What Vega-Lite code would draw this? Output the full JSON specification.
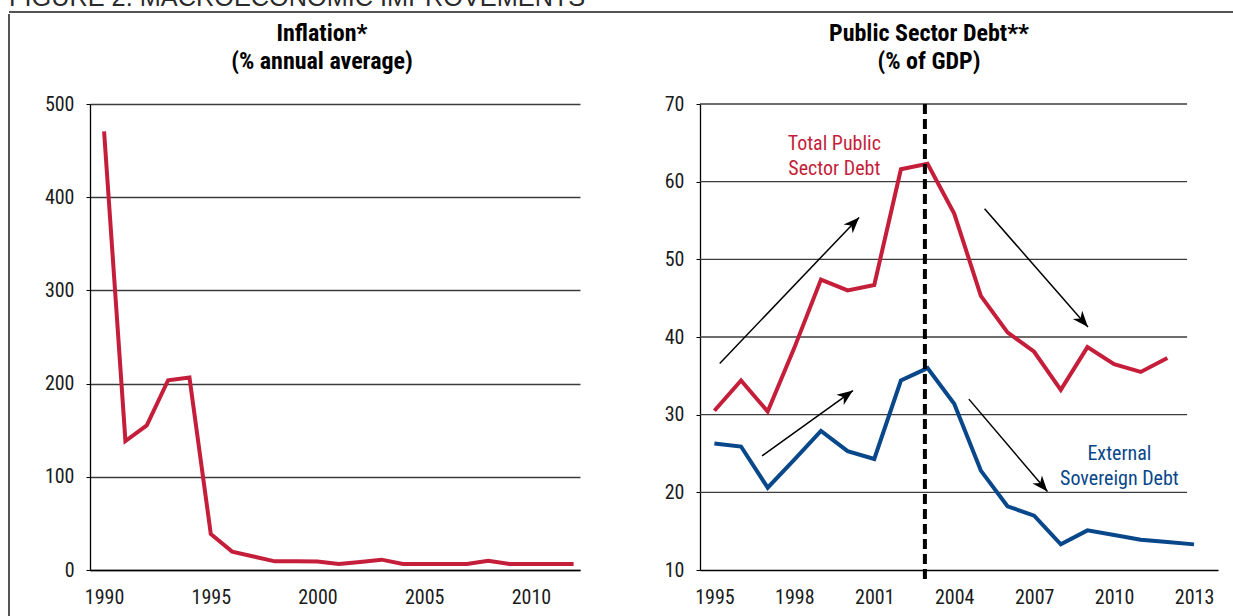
{
  "$schema": "https://vega.github.io/schema/vega-lite/v6.json",
  "padding": {"left": 8, "top": 0, "right": 0, "bottom": 0},
  "background": "#ffffff",
  "config": {
    "view": {"stroke": null},
    "font": "Roboto Condensed, Liberation Sans, sans-serif",
    "axis": {
      "labelFont": "Roboto Condensed, Liberation Sans, sans-serif",
      "labelFontSize": 20,
      "labelColor": "#1a1a1a",
      "domainColor": "#000000",
      "domainWidth": 1.3,
      "tickColor": "#000000",
      "gridColor": "#3c3c3c",
      "gridWidth": 1.3,
      "title": null
    },
    "title": {
      "font": "Roboto Condensed, Liberation Sans, sans-serif",
      "fontSize": 24,
      "fontWeight": "bold",
      "lineHeight": 28.5,
      "color": "#000000",
      "baseline": "alphabetic"
    }
  },
  "datasets": {
    "inflation": [
      {"year": 1990, "value": 470.7}, {"year": 1991, "value": 138.4}, {"year": 1992, "value": 155.2},
      {"year": 1993, "value": 203.6}, {"year": 1994, "value": 206.5}, {"year": 1995, "value": 38.7},
      {"year": 1996, "value": 19.7}, {"year": 1997, "value": 14.5}, {"year": 1998, "value": 9.3},
      {"year": 1999, "value": 9.3}, {"year": 2000, "value": 9.2}, {"year": 2001, "value": 6.5},
      {"year": 2002, "value": 8.7}, {"year": 2003, "value": 11.1}, {"year": 2004, "value": 6.5},
      {"year": 2005, "value": 6.4}, {"year": 2006, "value": 6.4}, {"year": 2007, "value": 6.4},
      {"year": 2008, "value": 10.0}, {"year": 2009, "value": 6.5}, {"year": 2010, "value": 6.5},
      {"year": 2011, "value": 6.5}, {"year": 2012, "value": 6.5}
    ],
    "debt": [
      {"series": "Total Public Sector Debt", "year": 1995, "value": 30.5},
      {"series": "Total Public Sector Debt", "year": 1996, "value": 34.4},
      {"series": "Total Public Sector Debt", "year": 1997, "value": 30.4},
      {"series": "Total Public Sector Debt", "year": 1998, "value": 38.6},
      {"series": "Total Public Sector Debt", "year": 1999, "value": 47.4},
      {"series": "Total Public Sector Debt", "year": 2000, "value": 46.0},
      {"series": "Total Public Sector Debt", "year": 2001, "value": 46.7},
      {"series": "Total Public Sector Debt", "year": 2002, "value": 61.6},
      {"series": "Total Public Sector Debt", "year": 2003, "value": 62.3},
      {"series": "Total Public Sector Debt", "year": 2004, "value": 55.9},
      {"series": "Total Public Sector Debt", "year": 2005, "value": 45.3},
      {"series": "Total Public Sector Debt", "year": 2006, "value": 40.6},
      {"series": "Total Public Sector Debt", "year": 2007, "value": 38.1},
      {"series": "Total Public Sector Debt", "year": 2008, "value": 33.2},
      {"series": "Total Public Sector Debt", "year": 2009, "value": 38.7},
      {"series": "Total Public Sector Debt", "year": 2010, "value": 36.5},
      {"series": "Total Public Sector Debt", "year": 2011, "value": 35.5},
      {"series": "Total Public Sector Debt", "year": 2012, "value": 37.3},
      {"series": "External Sovereign Debt", "year": 1995, "value": 26.3},
      {"series": "External Sovereign Debt", "year": 1996, "value": 25.9},
      {"series": "External Sovereign Debt", "year": 1997, "value": 20.6},
      {"series": "External Sovereign Debt", "year": 1998, "value": 24.2},
      {"series": "External Sovereign Debt", "year": 1999, "value": 27.9},
      {"series": "External Sovereign Debt", "year": 2000, "value": 25.3},
      {"series": "External Sovereign Debt", "year": 2001, "value": 24.3},
      {"series": "External Sovereign Debt", "year": 2002, "value": 34.4},
      {"series": "External Sovereign Debt", "year": 2003, "value": 36.0},
      {"series": "External Sovereign Debt", "year": 2004, "value": 31.4},
      {"series": "External Sovereign Debt", "year": 2005, "value": 22.8},
      {"series": "External Sovereign Debt", "year": 2006, "value": 18.2},
      {"series": "External Sovereign Debt", "year": 2007, "value": 17.0},
      {"series": "External Sovereign Debt", "year": 2008, "value": 13.3},
      {"series": "External Sovereign Debt", "year": 2009, "value": 15.1},
      {"series": "External Sovereign Debt", "year": 2010, "value": 14.5},
      {"series": "External Sovereign Debt", "year": 2011, "value": 13.9},
      {"series": "External Sovereign Debt", "year": 2012, "value": 13.6},
      {"series": "External Sovereign Debt", "year": 2013, "value": 13.3}
    ],
    "arrows": [
      {"x1": 1995.2, "y1": 36.6, "x2": 2000.43, "y2": 55.4, "angle": 43.6},
      {"x1": 1996.79, "y1": 24.7, "x2": 2000.2, "y2": 33.1, "angle": 54.2},
      {"x1": 2005.14, "y1": 56.5, "x2": 2009.02, "y2": 41.3, "angle": 138.8},
      {"x1": 2004.55, "y1": 32.0, "x2": 2007.5, "y2": 20.1, "angle": 139.6}
    ],
    "labels": [
      {"series": "Total Public Sector Debt", "year": 1999.5, "value": 64.8, "text": "Total Public\nSector Debt"},
      {"series": "External Sovereign Debt", "year": 2010.2, "value": 25.0, "text": "External\nSovereign Debt"}
    ],
    "grid": [{"v": 20}, {"v": 30}, {"v": 40}, {"v": 50}, {"v": 60}, {"v": 70}]
  },
  "spacing": 0,
  "vconcat": [
    {
      "width": 1240,
      "height": 12,
      "data": {"values": [{"label": "FIGURE 2. MACROECONOMIC IMPROVEMENTS"}]},
      "layer": [
        {
          "mark": {"type": "text", "clip": true, "align": "left", "baseline": "alphabetic", "fontSize": 25.3, "color": "#2a2a2a", "font": "Liberation Sans, Arial, sans-serif"},
          "encoding": {
            "x": {"datum": 0, "type": "quantitative", "scale": {"domain": [0, 1]}, "axis": null},
            "y": {"datum": 0.46, "type": "quantitative", "scale": {"domain": [0, 1]}, "axis": null},
            "text": {"field": "label"}
          }
        },
        {
          "mark": {"type": "rule", "color": "#555555", "strokeWidth": 2},
          "encoding": {
            "y": {"datum": 0, "type": "quantitative", "scale": {"domain": [0, 1]}, "axis": null}
          }
        }
      ]
    },
    {
      "spacing": 34,
      "hconcat": [
        {
          "width": 1,
          "height": 520,
          "data": {"values": [{"a": 1}]},
          "mark": {"type": "rule", "color": "#555555", "strokeWidth": 2},
          "encoding": {
            "x": {"datum": 0, "type": "quantitative", "scale": {"domain": [0, 1]}, "axis": null},
            "y": {"datum": 0, "type": "quantitative", "scale": {"domain": [0, 1]}, "axis": null},
            "y2": {"datum": 1.173}
          }
        },
        {
          "spacing": 82,
          "hconcat": [
            {
              "width": 490,
              "height": 466,
              "title": {"text": ["Inflation*", "(% annual average)"], "dx": -13, "offset": 20},
              "data": {"name": "inflation"},
              "mark": {"type": "line", "color": "#c41e3a", "strokeWidth": 4},
              "encoding": {
                "x": {
                  "field": "year", "type": "quantitative",
                  "scale": {"domain": [1989.34, 2012.3], "nice": false, "zero": false},
                  "axis": {"values": [1990, 1995, 2000, 2005, 2010], "format": "d", "grid": false, "ticks": false, "labelPadding": 17}
                },
                "y": {
                  "field": "value", "type": "quantitative",
                  "scale": {"domain": [0, 500], "nice": false},
                  "axis": {"values": [0, 100, 200, 300, 400, 500], "grid": true, "tickSize": 4, "labelPadding": 12}
                }
              }
            },
            {
              "width": 518,
              "height": 466,
              "title": {"text": ["Public Sector Debt**", "(% of GDP)"], "dx": -30, "offset": 20},
              "layer": [
                {
                  "data": {"name": "grid"},
                  "mark": {"type": "rule", "color": "#3c3c3c", "strokeWidth": 1.3},
                  "encoding": {
                    "x": {"datum": 1994.46, "type": "quantitative", "scale": {"domain": [1994.46, 2013.9], "nice": false, "zero": false}},
                    "x2": {"datum": 2012.74},
                    "y": {"field": "v", "type": "quantitative", "scale": {"domain": [10, 70], "nice": false, "zero": false}}
                  }
                },
                {
                  "data": {"name": "debt"},
                  "mark": {"type": "line", "strokeWidth": 4},
                  "encoding": {
                    "x": {
                      "field": "year", "type": "quantitative",
                      "scale": {"domain": [1994.46, 2013.9], "nice": false, "zero": false},
                      "axis": {"values": [1995, 1998, 2001, 2004, 2007, 2010, 2013], "format": "d", "grid": false, "ticks": false, "labelPadding": 17}
                    },
                    "y": {
                      "field": "value", "type": "quantitative",
                      "scale": {"domain": [10, 70], "nice": false, "zero": false},
                      "axis": {"values": [10, 20, 30, 40, 50, 60, 70], "grid": false, "tickSize": 4, "labelPadding": 12}
                    },
                    "color": {
                      "field": "series", "type": "nominal",
                      "scale": {"domain": ["Total Public Sector Debt", "External Sovereign Debt"], "range": ["#c41e3a", "#08478a"]},
                      "legend": null
                    }
                  }
                },
                {
                  "data": {"values": [{"event": "2003"}]},
                  "mark": {"type": "rule", "color": "#000000", "strokeWidth": 4, "strokeDash": [10, 5]},
                  "encoding": {
                    "x": {"datum": 2002.9, "type": "quantitative"},
                    "y": {"datum": 70, "type": "quantitative"},
                    "y2": {"datum": 8.2}
                  }
                },
                {
                  "data": {"name": "arrows"},
                  "mark": {"type": "rule", "color": "#000000", "strokeWidth": 1.5},
                  "encoding": {
                    "x": {"field": "x1", "type": "quantitative"},
                    "y": {"field": "y1", "type": "quantitative"},
                    "x2": {"field": "x2"},
                    "y2": {"field": "y2"}
                  }
                },
                {
                  "data": {"name": "arrows"},
                  "mark": {"type": "point", "shape": "M0,0L0.75,1.9L0,1.35L-0.75,1.9Z", "filled": true, "color": "#000000", "size": 280, "opacity": 1},
                  "encoding": {
                    "x": {"field": "x2", "type": "quantitative"},
                    "y": {"field": "y2", "type": "quantitative"},
                    "angle": {"field": "angle", "type": "quantitative", "scale": null}
                  }
                },
                {
                  "data": {"name": "labels"},
                  "mark": {"type": "text", "lineBreak": "\n", "fontSize": 20, "lineHeight": 25, "align": "center", "baseline": "middle"},
                  "encoding": {
                    "x": {"field": "year", "type": "quantitative"},
                    "y": {"field": "value", "type": "quantitative"},
                    "text": {"field": "text"},
                    "color": {"field": "series", "type": "nominal", "legend": null}
                  }
                }
              ]
            }
          ]
        }
      ]
    }
  ]
}
